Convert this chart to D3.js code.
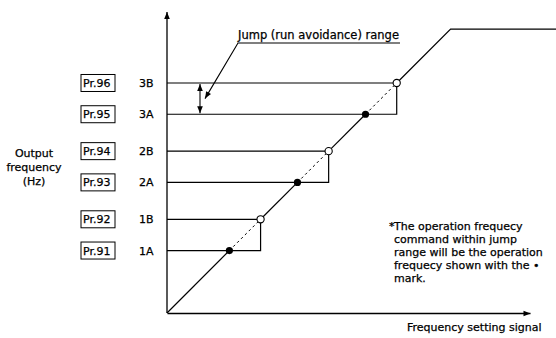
<!DOCTYPE html>
<html>
<head>
<meta charset="utf-8">
<script src="https://cdn.jsdelivr.net/npm/d3@7"></script>
<style>
  html, body { margin: 0; padding: 0; background: #fff; }
  svg text { font-family: "DejaVu Sans", "Liberation Sans", Arial, sans-serif; fill: #000; stroke: #000; stroke-width: 0.25px; }
</style>
</head>
<body>
<svg id="chart" width="556" height="338"></svg>
<script>
// Jump frequency settings (output frequency, % of the maximum)
const jumpNames   = ["1", "2", "3"];
const lowerLevels = [22, 46, 70];     // 1A, 2A, 3A
const upperLevels = [33, 57, 81];     // 1B, 2B, 3B
const lowerParams = ["Pr.91", "Pr.93", "Pr.95"];
const upperParams = ["Pr.92", "Pr.94", "Pr.96"];
const maxLevel = 100;                 // upper limit of output frequency
const signalEnd = 138;                // flat section runs past the right edge

const axisLabelY = ["Output", "frequency", "(Hz)"];
const axisLabelX = "Frequency setting signal";
const jumpLabel = "Jump (run avoidance) range";
const noteLines = [
  "The operation frequecy",
  "command within jump",
  "range will be the operation",
  "frequecy shown with the \u2022",
  "mark."
];

const svg = d3.select("#chart");
const ink = "#000";
const fs = 11;

const x = d3.scaleLinear().domain([0, 128]).range([167, 530]);
const y = d3.scaleLinear().domain([0, 106]).range([313, 12]);

// arrow heads
const defs = svg.append("defs");
defs.append("marker")
  .attr("id", "arrow")
  .attr("viewBox", "0 0 10 10")
  .attr("refX", 10).attr("refY", 5)
  .attr("markerWidth", 9).attr("markerHeight", 7)
  .attr("markerUnits", "userSpaceOnUse")
  .attr("orient", "auto-start-reverse")
  .append("path")
  .attr("d", "M0,1 L10,5 L0,9 Z")
  .attr("fill", ink);

// axes: plain lines with arrow heads
const xAxis = svg.append("g").attr("transform", `translate(0,${y(0)})`)
  .call(d3.axisBottom(x).tickValues([]).tickSizeOuter(0));
xAxis.select(".domain").attr("stroke", ink).attr("stroke-width", 1.3)
  .attr("marker-end", "url(#arrow)");
const yAxis = svg.append("g").attr("transform", `translate(${x(0)},0)`)
  .call(d3.axisLeft(y).tickValues([]).tickSizeOuter(0));
yAxis.select(".domain").attr("stroke", ink).attr("stroke-width", 1.3)
  .attr("d", `M0,${y(0)}V${y(106)}`)
  .attr("marker-end", "url(#arrow)");

const jumps = jumpNames.map((n, i) => ({
  name: n, a: lowerLevels[i], b: upperLevels[i],
  prA: lowerParams[i], prB: upperParams[i]
}));

// jump range frames: lines from the axis to the upper point, joined by a vertical
const frames = svg.append("g").attr("stroke", ink).attr("stroke-width", 1.2).attr("fill", "none");
jumps.forEach(j => {
  frames.append("path")
    .attr("d", `M${x(0)},${y(j.b)}H${x(j.b)}V${y(j.a)}H${x(0)}`);
});

// output frequency curve: solid outside the jumps, dashed across them
const solidPts = [];
let prev = 0;
jumps.forEach(j => { solidPts.push([[prev, prev], [j.a, j.a]]); prev = j.b; });
solidPts.push([[prev, prev], [maxLevel, maxLevel], [signalEnd, maxLevel]]);
const line = d3.line().x(d => x(d[0])).y(d => y(d[1]));
svg.append("g").selectAll("path").data(solidPts).join("path")
  .attr("d", line).attr("fill", "none").attr("stroke", ink).attr("stroke-width", 1.2);
svg.append("g").selectAll("path").data(jumps).join("path")
  .attr("d", j => line([[j.a, j.a], [j.b, j.b]]))
  .attr("fill", "none").attr("stroke", ink).attr("stroke-width", 1)
  .attr("stroke-dasharray", "2.5,3");

// operating points
svg.append("g").selectAll("circle").data(jumps).join("circle")
  .attr("cx", j => x(j.a)).attr("cy", j => y(j.a)).attr("r", 3.6)
  .attr("fill", ink);
svg.append("g").selectAll("circle").data(jumps).join("circle")
  .attr("cx", j => x(j.b)).attr("cy", j => y(j.b)).attr("r", 3.6)
  .attr("fill", "#fff").attr("stroke", ink).attr("stroke-width", 1.1);

// parameter labels on the left
const levelRows = [];
jumps.forEach(j => {
  levelRows.push({ v: j.a, pr: j.prA, code: j.name + "A" });
  levelRows.push({ v: j.b, pr: j.prB, code: j.name + "B" });
});
const rows = svg.append("g").selectAll("g").data(levelRows).join("g")
  .attr("transform", d => `translate(0,${y(d.v)})`);
rows.append("rect")
  .attr("x", 81).attr("y", -8.5).attr("width", 34).attr("height", 17)
  .attr("fill", "none").attr("stroke", ink).attr("stroke-width", 1);
rows.append("text")
  .attr("x", 83).attr("y", 4)
  .attr("font-size", fs).text(d => d.pr);
rows.append("text")
  .attr("x", 139).attr("y", 4)
  .attr("font-size", fs).text(d => d.code);

// y axis title
svg.append("text").attr("text-anchor", "middle").attr("font-size", fs)
  .selectAll("tspan").data(axisLabelY).join("tspan")
  .attr("x", 34).attr("y", (d, i) => 157 + i * 14).text(d => d);

// x axis title
svg.append("text").attr("x", 407).attr("y", 331).attr("font-size", fs)
  .text(axisLabelX);

// jump range callout
const j3 = jumps[2];
svg.append("text").attr("x", 238).attr("y", 39).attr("font-size", 11.5)
  .text(jumpLabel);
svg.append("path")
  .attr("d", `M400,43H238L205,${y((j3.a + j3.b) / 2)}`)
  .attr("fill", "none").attr("stroke", ink).attr("stroke-width", 1.1)
  .attr("marker-end", "url(#arrow)");
svg.append("line")
  .attr("x1", 200).attr("x2", 200)
  .attr("y1", y(j3.b) + 1).attr("y2", y(j3.a) - 1)
  .attr("stroke", ink).attr("stroke-width", 1.1)
  .attr("marker-start", "url(#arrow)").attr("marker-end", "url(#arrow)");

// footnote
svg.append("text").attr("x", 389).attr("y", 230).attr("font-size", fs).text("*");
svg.append("text").attr("font-size", fs)
  .selectAll("tspan").data(noteLines).join("tspan")
  .attr("x", 394)
  .attr("y", (d, i) => 230 + i * 13).text(d => d);
</script>
</body>
</html>
